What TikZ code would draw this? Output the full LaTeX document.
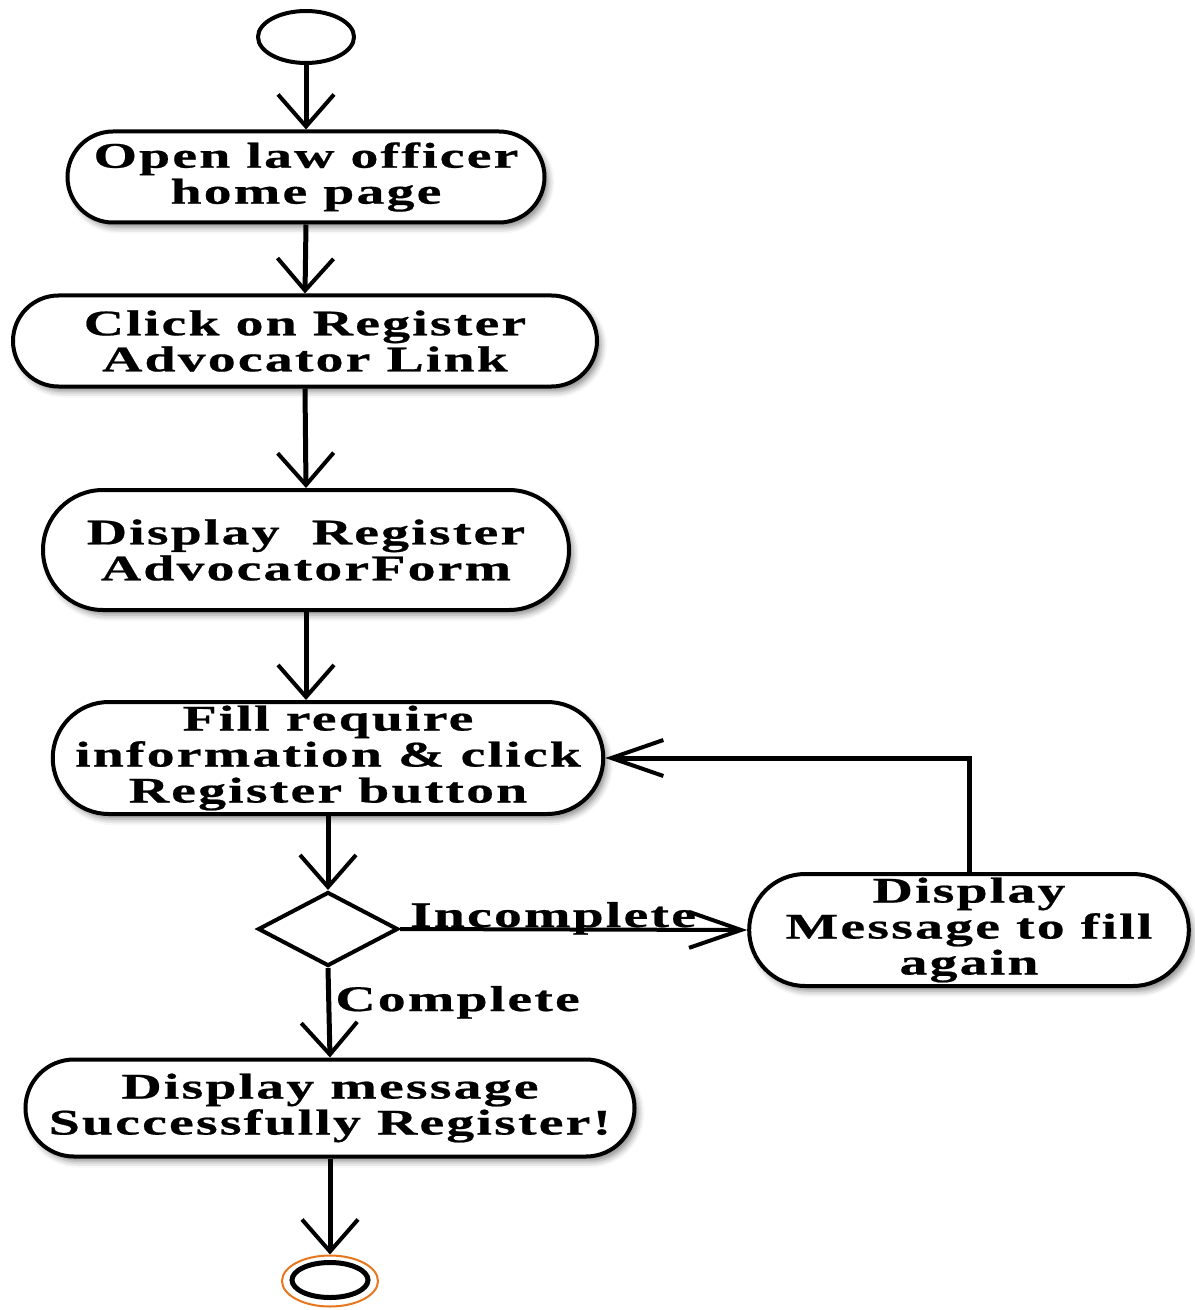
\documentclass[tikz,border=0pt]{standalone}
\usepackage{fontspec}
\usetikzlibrary{arrows.meta,shapes.misc,shapes.geometric,shadows.blur}
\newfontfamily\lblfont[FakeStretch=1.55,LetterSpace=6,FakeBold=0.6]{Liberation Serif}
\definecolor{finalring}{RGB}{232,118,28}
\tikzset{
  act/.style={rounded rectangle, draw, line width=2pt, fill=white,
    align=center, inner sep=0pt,
    font=\lblfont\bfseries\fontsize{18}{18}\selectfont,
    blur shadow={shadow xshift=2pt, shadow yshift=-2.5pt,
      shadow blur radius=3pt, shadow opacity=45}},
  flow/.style={line width=2.5pt, -{Straight Barb[length=16pt,width=28pt,line width=2pt]}},
  sideflow/.style={line width=2pt, -{Straight Barb[length=26pt,width=18pt,line width=2pt]}},
  guard/.style={font=\lblfont\bfseries\fontsize{18}{18}\selectfont, inner sep=0pt},
}
\begin{document}
\begin{tikzpicture}[x=0.5pt,y=-0.5pt]
  \useasboundingbox (0,0) rectangle (1194,1310);

  % initial node
  \node (start) [ellipse, draw, line width=2pt, fill=white,
    minimum width=48pt, minimum height=26pt, inner sep=0pt] at (306,37) {};

  % activities
  \node (open) [act, minimum width=238.5pt, minimum height=45.5pt] at (306,177)
    {Open law officer\\home page};
  \node (click) [act, minimum width=292pt, minimum height=45.5pt] at (305,341)
    {Click on Register\\Advocator Link};
  \node (form) [act, minimum width=263pt, minimum height=60pt] at (306,550)
    {Display\ \ Register\\AdvocatorForm};
  \node (fill) [act, inner xsep=-7pt, minimum width=275pt, minimum height=56pt] at (328,758)
    {Fill require\\information \& click\\Register button};
  \node (check) [diamond, draw, line width=2pt, fill=white,
    minimum width=70pt, minimum height=37pt, inner sep=0pt] at (328,929) {};
  \node (again) [act, minimum width=218pt, minimum height=56pt] at (969,930)
    {Display\\Message to fill\\again};
  \node (done) [act, minimum width=304.5pt, minimum height=48.5pt] at (330,1108)
    {Display message\\Successfully Register!};

  % final node
  \node (finish) [ellipse, draw=finalring, line width=1pt,
    minimum width=48pt, minimum height=25.5pt, inner sep=0pt] at (330,1281) {};
  \node (finishdot) [ellipse, draw, line width=2.5pt,
    minimum width=38pt, minimum height=17.5pt, inner sep=0pt] at (330,1280) {};

  % control flow
  \draw[flow] (start.south) -- (open.north);
  \draw[flow] (open.south) -- (click.north);
  \draw[flow] (click.south) -- (form.north);
  \draw[flow] (form.south) -- (form.south |- fill.north);
  \draw[flow] (fill.south) -- (check.north);
  \draw[sideflow] (check.east) -- (again.west);
  \node (lblinc) [guard, anchor=base] at (553,927) {Incomplete};
  \draw[flow] (check.south) -- (done.north);
  \node (lblcomp) [guard, anchor=base west] at (335,1011) {Complete};
  \draw[flow] (done.south) -- (finish.north);
  \draw[sideflow, line width=2.5pt] (again.north) -- (again.north |- fill.east) -- (fill.east);
\end{tikzpicture}
\end{document}
